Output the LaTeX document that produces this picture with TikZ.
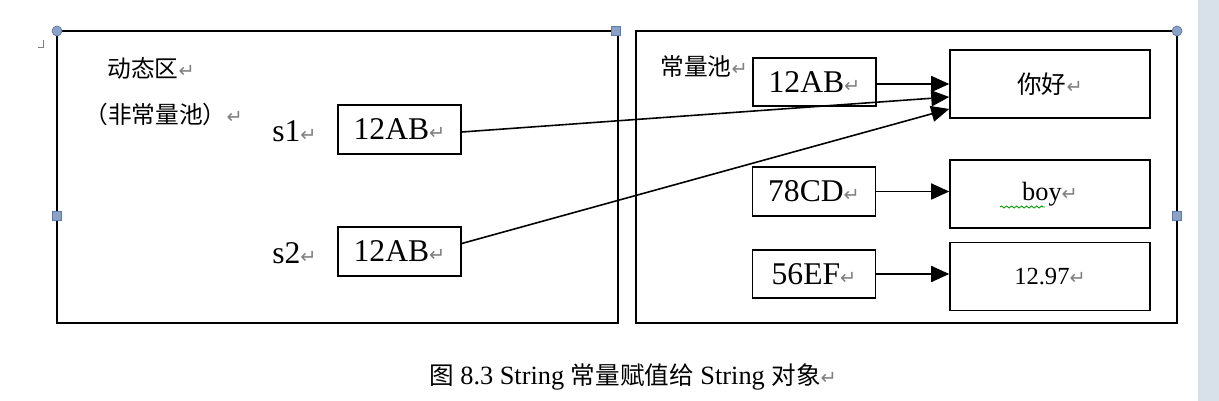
\documentclass[tikz,border=0pt]{standalone}
\usepackage{fontspec}
\setmainfont{Liberation Serif}
\newfontfamily\cjk{Noto Sans CJK SC}
\newfontfamily\retfont{DejaVu Sans}
\usetikzlibrary{arrows.meta,decorations.pathmorphing}
\definecolor{handle}{HTML}{8AA2C8}
\definecolor{handleline}{HTML}{5E7CA8}
\definecolor{pane}{HTML}{D8E1EA}
\newcommand{\retmark}{{\retfont\fontsize{11}{11}\selectfont\color{gray}↵}}
\begin{document}
\begin{tikzpicture}[
    x=0.02cm, y=-0.02cm,
    area/.style={draw, line width=1.1pt},
    val/.style={draw, line width=0.9pt, minimum width=2.46cm, minimum height=0.97cm,
        inner sep=0pt, font=\fontsize{18}{18}\selectfont},
    obj/.style={draw, line width=0.9pt, minimum width=4cm, minimum height=1.36cm,
        inner sep=0pt},
    lbl/.style={anchor=west, inner sep=0pt, font=\cjk\fontsize{13.5}{13.5}\selectfont},
    ref/.style={line width=0.9pt, -{Triangle[length=0.36cm,width=0.32cm]}},
    roundhandle/.style={circle, fill=handle, draw=handleline, line width=0.4pt,
        minimum size=0.2cm, inner sep=0pt},
    squarehandle/.style={rectangle, fill=handle, draw=handleline, line width=0.4pt,
        minimum size=0.19cm, inner sep=0pt}
]
\useasboundingbox (0,0) rectangle (1219,401);
\fill[pane] (1198,0) rectangle (1219,401);

% two memory areas
\draw[area] (57,31) rectangle (618,323);
\draw[area] (636,31) rectangle (1177,323);
\draw[gray, line width=0.4pt] (43,40) -- (43,47) -- (38,47);

% dynamic area
\node[lbl] (dyn) at (107,68) {动态区\retmark};
\node[lbl] (nonpool) at (84,114) {（非常量池）\retmark};
\node[lbl, font=\fontsize{18}{18}\selectfont] (s1) at (272,131) {s1\retmark};
\node[lbl, font=\fontsize{18}{18}\selectfont] (s2) at (272,253) {s2\retmark};
\node[val] (a1) at (399.5,129.5) {12AB\retmark};
\node[val] (a2) at (399.5,251.5) {12AB\retmark};

% constant pool
\node[lbl] (pool) at (660,66) {常量池\retmark};
\node[val] (p1) at (814.5,82) {12AB\retmark};
\node[val] (p2) at (814,191.5) {78CD\retmark};
\node[val] (p3) at (814,274) {56EF\retmark};
\node[obj, font=\cjk\fontsize{14}{14}\selectfont] (nihao) at (1050,84) {你好\retmark};
\node[obj, font=\fontsize{15}{15}\selectfont] (boy) at (1050,194) {boy\retmark};
\node[obj, font=\fontsize{14}{14}\selectfont] (num) at (1050,276.5) {12.97\retmark};
\draw[green!60!black, line width=0.5pt, decorate,
    decoration={snake, amplitude=0.02cm, segment length=0.1cm}]
    ([xshift=-1.0cm,yshift=-0.26cm]boy.center) -- ([xshift=-0.1cm,yshift=-0.26cm]boy.center);

% references
\draw[ref] ([yshift=-0.04cm]p1.east) -- ([yshift=-0.04cm]p1.east -| nihao.west);
\draw[ref] ([yshift=-0.05cm]a1.east) -- ([yshift=-0.26cm]nihao.west);
\draw[ref] ([yshift=0.16cm]a2.east) -- ([yshift=-0.5cm]nihao.west);
\draw[ref] (p2.east) -- (p2.east -| boy.west);
\draw[ref] (p3.east) -- (p3.east -| num.west);

% selection handles
\node[roundhandle] (h1) at (57,31) {};
\node[squarehandle] (h2) at (616,31) {};
\node[squarehandle] (h3) at (57,216) {};
\node[roundhandle] (h4) at (1177,31) {};
\node[squarehandle] (h5) at (1177,216) {};

% caption
\node[font=\fontsize{15}{15}\selectfont] (cap) at (633,377)
    {{\cjk\fontsize{14}{14}\selectfont 图} 8.3 String {\cjk\fontsize{14}{14}\selectfont 常量赋值给} String {\cjk\fontsize{14}{14}\selectfont 对象}\retmark};
\end{tikzpicture}
\end{document}
